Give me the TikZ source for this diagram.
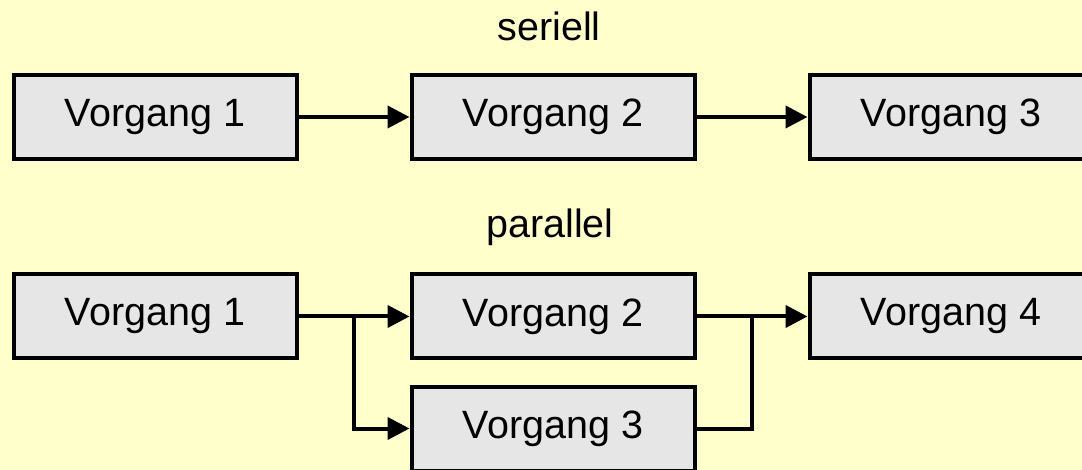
\documentclass[tikz,border=0pt]{standalone}
\usepackage{fontspec}
\setmainfont{Liberation Sans}
\usepackage{tikz}
\usetikzlibrary{positioning,arrows.meta,calc}
\usepackage{xcolor}
\definecolor{bgyellow}{RGB}{255,255,204}
\definecolor{boxgray}{RGB}{230,230,230}
\newcommand\boxfont{\fontsize{39.5}{46}\selectfont}

\begin{document}
\begin{tikzpicture}[x=1pt,y=-1pt,>={Triangle[length=22pt,width=22pt]},line width=4pt,
  node distance=24pt and 111pt,
  box/.style={draw,fill=boxgray,minimum width=283pt,minimum height=84pt,font=\boxfont}]
\useasboundingbox (0,0) rectangle (1082,470);
\fill[bgyellow] (0,0) rectangle (1082,470);
\clip (0,0) rectangle (1082,470);
% seriell
\node (ser) [anchor=base,font=\boxfont] at (549,41) {seriell};
\node (s1) [box] at (155,117) {Vorgang 1};
\node (s2) [box,right=of s1] {Vorgang 2};
\node (s3) [box,right=of s2] {Vorgang 3};
\draw[->] (s1) -- (s2);
\draw[->] (s2) -- (s3);
% parallel
\node (par) [anchor=base,font=\boxfont] at (550,238) {parallel};
\node (p1) [box] at (155,316.5) {Vorgang 1};
\node (p2) [box,right=of p1] {Vorgang 2};
\node (p3) [box,below=of p2] {Vorgang 3};
\node (p4) [box,right=of p2] {Vorgang 4};
\coordinate (fork) at ($(p1.east)!0.5!(p2.west)$);
\coordinate (join) at ($(p2.east)!0.5!(p4.west)$);
\draw[->] (p1) -- (p2);
\draw[->] (fork) |- (p3.west);
\draw[->] (p2) -- (p4);
\draw (p3.east) -| (join);
\end{tikzpicture}
\end{document}
